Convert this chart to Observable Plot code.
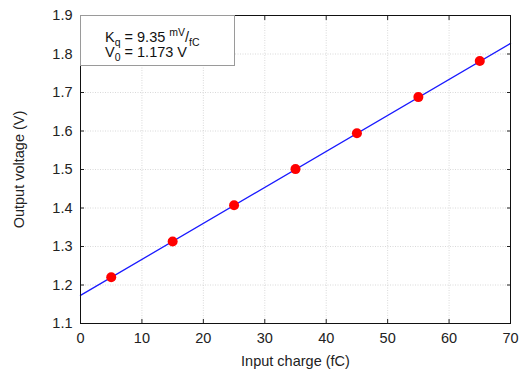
<!DOCTYPE html>
<html><head><meta charset="utf-8">
<script src="https://cdn.jsdelivr.net/npm/d3@7"></script>
<script src="https://cdn.jsdelivr.net/npm/@observablehq/plot@0.6"></script>
<style>
body{margin:0;background:#fff;font-family:"Liberation Sans",Arial,sans-serif;}
#wrap{position:relative;width:528px;height:371px;}
#legend{position:absolute;left:80px;top:15px;width:155px;height:51px;background:#fff;border:1px solid #9a9a9a;box-sizing:border-box;font-size:14.5px;color:#111;line-height:15px;padding:14px 0 0 24px;}
#legend sub{font-size:10.5px;vertical-align:-4px;line-height:0}
#legend sup{font-size:10.5px;vertical-align:6px;line-height:0}
</style></head>
<body><div id="wrap"></div>
<script>
const charge = [5, 15, 25, 35, 45, 55, 65];
const voltage = [1.220, 1.313, 1.407, 1.501, 1.594, 1.688, 1.782];
const fitX = [0, 70];
const fitY = [1.173, 1.8275];
const xTicks = [0, 10, 20, 30, 40, 50, 60, 70];
const yTicks = [1.1, 1.2, 1.3, 1.4, 1.5, 1.6, 1.7, 1.8, 1.9];
const kq = "9.35", v0 = "1.173";

const pts = charge.map((c, i) => ({c, v: voltage[i]}));
const fit = fitX.map((x, i) => ({x, y: fitY[i]}));

const chart = Plot.plot({
  width: 528, height: 371,
  marginLeft: 80, marginRight: 18, marginTop: 15, marginBottom: 48,
  style: {fontFamily: '"Liberation Sans", Arial, sans-serif', fontSize: "14.5px", color: "#222", background: "#fff"},
  x: {domain: [0, 70]},
  y: {domain: [1.1, 1.9]},
  marks: [
    Plot.gridX(xTicks, {stroke: "#c8c8c8", strokeOpacity: 1, strokeDasharray: "1,1.5", strokeWidth: 0.7}),
    Plot.gridY(yTicks, {stroke: "#c8c8c8", strokeOpacity: 1, strokeDasharray: "1,1.5", strokeWidth: 0.7}),
    Plot.line(fit, {x: "x", y: "y", stroke: "#1a1aff", strokeWidth: 1.3}),
    Plot.dot(pts, {x: "c", y: "v", r: 5, fill: "#ff0000", stroke: "none"}),
    Plot.axisX(xTicks, {anchor: "bottom", tickSize: -4, tickPadding: 13, label: "Input charge (fC)", labelAnchor: "center", labelArrow: "none", labelOffset: 42, fontSize: 14.5}),
    Plot.axisX(xTicks, {anchor: "top", tickSize: -4, text: null, label: null}),
    Plot.axisY(yTicks, {anchor: "left", tickSize: -4, tickPadding: 12, tickFormat: d3.format(".1f"), label: "Output voltage (V)", labelAnchor: "center", labelArrow: "none", labelOffset: 67, fontSize: 14.5}),
    Plot.axisY(yTicks, {anchor: "right", tickSize: -4, text: null, label: null}),
    Plot.frame({stroke: "#111", strokeWidth: 1})
  ]
});
const wrap = document.getElementById("wrap");
wrap.appendChild(chart);
const leg = document.createElement("div");
leg.id = "legend";
leg.innerHTML = `K<sub>q</sub> = ${kq} <sup>mV</sup>/<sub>fC</sub><br>V<sub>0</sub> = ${v0} V`;
wrap.appendChild(leg);
</script></body></html>
